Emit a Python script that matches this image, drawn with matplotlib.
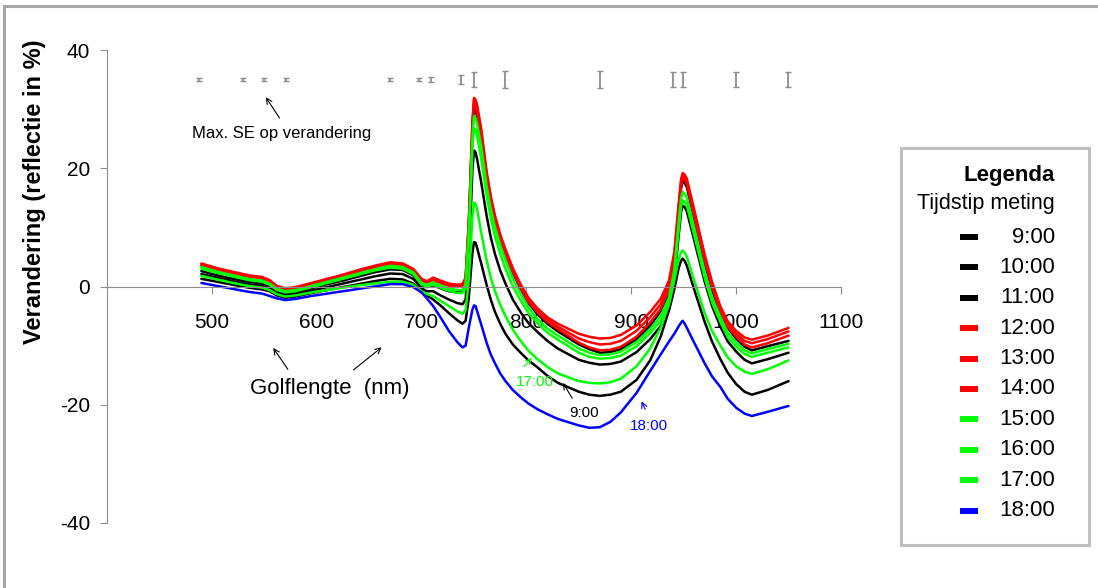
import matplotlib
matplotlib.use("Agg")
import matplotlib.pyplot as plt
from matplotlib.lines import Line2D
from matplotlib.patches import Rectangle

plt.rcParams['font.family'] = ['Liberation Sans', 'DejaVu Sans']
plt.rcParams['axes.unicode_minus'] = False

# wavelengths (nm)
wl = [490, 505, 520, 535, 548, 555, 562, 570, 580, 595, 610, 625, 640, 655, 670, 682, 692, 700, 705, 711,
      718, 726, 734, 739, 742, 745, 747, 748.5, 750, 751.5,
      753, 757, 762, 766, 770, 775, 780, 787, 795, 802, 810, 820, 830,
      850, 860, 870, 880, 890, 905, 918, 928, 936, 941, 945, 947.5, 949, 951,
      953, 960, 970, 977, 985, 992, 1000, 1008, 1015, 1030, 1050]

t0900 = [1.3, 0.8, 0.3, -0.2, -0.5, -0.8, -1.5, -1.9, -1.7, -1.1, -0.6, -0.1, 0.4, 0.9, 1.3, 1.2, 0.5, -0.8, -1.5, -2.2,
         -3.2, -4.5, -5.7, -6.3, -5.8, -2.0, 2.5, 5.7, 7.5, 7.4,
         6.5, 3.8, 0.3, -2.2, -4.3, -6.3, -8.0, -9.8, -11.3, -12.5, -13.6, -15.1, -16.3,
         -17.8, -18.3, -18.5, -18.3, -17.8, -15.8, -12.5, -8.5, -4.0, -0.5, 3.0, 4.4, 4.7, 4.3,
         3.5, -0.5, -6.0, -9.3, -12.3, -14.6, -16.5, -17.8, -18.3, -17.5, -16.0]
t1000 = [2.1, 1.5, 0.9, 0.4, 0.1, -0.3, -1.1, -1.5, -1.3, -0.7, -0.1, 0.5, 1.1, 1.7, 2.2, 2.1, 1.3, -0.3, -0.8, -0.8,
         -1.5, -2.2, -2.8, -3.0, -2.2, 5.0, 13.0, 19.8, 23.0, 22.7,
         21.5, 17.5, 12.0, 8.3, 5.5, 2.7, 0.5, -2.2, -4.5, -6.2, -7.6, -9.2, -10.5,
         -12.4, -12.9, -13.2, -13.1, -12.7, -11.1, -8.9, -6.7, -3.8, 0.8, 8.3, 12.6, 13.7, 13.4,
         12.7, 7.8, 0.8, -3.3, -6.8, -9.3, -11.0, -12.4, -13.0, -12.3, -11.2]
t1100 = [2.6, 1.9, 1.3, 0.8, 0.5, 0.1, -0.8, -1.2, -1.0, -0.3, 0.4, 1.0, 1.7, 2.4, 2.9, 2.8, 1.9, 0.2, -0.1, 0.2,
         -0.3, -0.8, -1.0, -0.9, 0.0, 9.0, 18.6, 26.3, 30.0, 29.7,
         28.8, 24.5, 18.0, 14.0, 11.0, 7.9, 5.5, 2.3, -0.6, -2.8, -4.6, -6.3, -7.6,
         -9.8, -10.6, -11.2, -11.1, -10.6, -8.9, -6.6, -4.2, -1.0, 3.9, 12.0, 16.6, 17.8, 17.5,
         16.8, 11.4, 4.0, -0.6, -4.5, -7.0, -8.8, -10.2, -10.8, -10.1, -9.2]
t1200 = [3.9, 3.1, 2.5, 1.9, 1.6, 1.1, 0.1, -0.3, -0.1, 0.6, 1.3, 2.0, 2.8, 3.5, 4.1, 3.9, 3.0, 1.3, 0.9, 1.5,
         1.0, 0.5, 0.3, 0.4, 1.5, 11.0, 20.5, 28.0, 31.9, 31.6,
         30.7, 26.5, 19.5, 15.3, 12.0, 8.8, 6.3, 3.1, 0.2, -1.9, -3.6, -5.2, -6.3,
         -8.0, -8.5, -8.8, -8.7, -8.2, -6.6, -4.3, -2.1, 1.0, 5.8, 13.6, 18.1, 19.2, 18.9,
         18.2, 13.0, 5.4, 0.8, -3.4, -5.9, -7.5, -8.6, -9.0, -8.3, -7.0]
t1300 = [3.7, 2.9, 2.3, 1.7, 1.4, 0.9, -0.1, -0.5, -0.3, 0.4, 1.1, 1.8, 2.6, 3.3, 3.9, 3.7, 2.8, 1.1, 0.7, 1.3,
         0.8, 0.3, 0.1, 0.2, 1.3, 10.5, 20.0, 27.5, 31.4, 31.1,
         30.2, 26.0, 19.0, 14.9, 11.6, 8.5, 6.0, 2.8, -0.1, -2.3, -4.0, -5.6, -6.8,
         -8.8, -9.4, -9.8, -9.7, -9.2, -7.5, -5.2, -3.0, 0.2, 5.1, 13.1, 17.7, 18.8, 18.5,
         17.8, 12.5, 5.0, 0.4, -3.8, -6.3, -8.0, -9.2, -9.6, -8.9, -7.6]
t1400 = [3.5, 2.7, 2.1, 1.5, 1.2, 0.7, -0.3, -0.7, -0.5, 0.2, 0.9, 1.6, 2.4, 3.1, 3.7, 3.5, 2.6, 0.9, 0.5, 1.1,
         0.6, 0.1, -0.1, 0.0, 1.1, 10.0, 19.5, 27.0, 30.8, 30.5,
         29.6, 25.3, 18.5, 14.5, 11.2, 8.1, 5.7, 2.5, -0.4, -2.6, -4.3, -6.0, -7.2,
         -9.5, -10.3, -10.8, -10.7, -10.2, -8.5, -6.1, -3.8, -0.6, 4.3, 12.5, 17.1, 18.3, 18.0,
         17.3, 11.9, 4.5, -0.1, -4.2, -6.8, -8.5, -9.8, -10.3, -9.6, -8.3]
t1500 = [3.3, 2.5, 1.9, 1.3, 1.0, 0.5, -0.4, -0.8, -0.6, 0.1, 0.8, 1.5, 2.2, 2.9, 3.5, 3.3, 2.4, 0.6, 0.3, 0.7,
         0.2, -0.3, -0.6, -0.6, 0.3, 9.0, 18.0, 25.3, 28.8, 28.5,
         27.5, 23.5, 17.0, 13.1, 10.0, 7.0, 4.5, 1.3, -1.4, -3.6, -5.4, -7.1, -8.3,
         -10.5, -11.2, -11.6, -11.5, -11.0, -9.4, -7.2, -5.0, -1.9, 2.8, 10.5, 14.9, 16.0, 15.7,
         15.0, 9.9, 2.5, -1.8, -5.2, -7.8, -9.5, -10.8, -11.3, -10.6, -9.7]
t1600 = [3.0, 2.3, 1.7, 1.1, 0.8, 0.3, -0.6, -1.0, -0.8, -0.1, 0.6, 1.3, 2.0, 2.7, 3.2, 3.0, 2.1, 0.3, 0.0, 0.3,
         -0.2, -0.7, -1.1, -1.1, -0.3, 8.0, 16.5, 23.5, 26.8, 26.5,
         25.5, 21.5, 15.5, 11.6, 8.5, 5.5, 3.0, 0.0, -2.5, -4.5, -6.1, -7.8, -9.0,
         -11.2, -11.9, -12.2, -12.1, -11.7, -10.1, -7.9, -5.8, -2.8, 1.7, 9.2, 13.5, 14.6, 14.3,
         13.7, 8.7, 1.5, -2.7, -6.0, -8.6, -10.2, -11.4, -11.9, -11.2, -10.3]
t1700 = [1.8, 1.2, 0.6, 0.1, -0.2, -0.6, -1.3, -1.7, -1.5, -1.0, -0.6, -0.2, 0.2, 0.5, 0.8, 0.8, 0.3, -0.8, -1.3, -1.6,
         -2.4, -3.3, -4.2, -4.6, -4.0, 1.0, 7.0, 11.8, 14.2, 14.0,
         13.0, 9.0, 4.5, 1.5, -0.8, -3.1, -5.0, -7.3, -9.3, -10.9, -12.2, -13.6, -14.7,
         -16.0, -16.3, -16.4, -16.2, -15.6, -13.5, -10.5, -7.0, -3.0, 1.0, 4.5, 5.8, 6.1, 5.7,
         5.0, 1.0, -4.5, -7.5, -10.0, -12.0, -13.5, -14.4, -14.8, -14.0, -12.5]
t1800 = [0.6, 0.1, -0.4, -0.9, -1.2, -1.6, -2.0, -2.3, -2.1, -1.6, -1.2, -0.8, -0.4, 0.0, 0.4, 0.4, -0.1, -1.0, -2.0, -3.3,
         -5.2, -7.5, -9.4, -10.3, -10.0, -7.0, -5.2, -3.9, -3.2, -3.3,
         -4.2, -6.5, -9.5, -11.5, -13.0, -14.7, -16.0, -17.5, -18.8, -19.8, -20.7, -21.6, -22.4,
         -23.5, -23.9, -23.8, -22.9, -21.3, -18.0, -14.3, -11.5, -9.3, -8.0, -6.8, -6.1, -5.8, -6.3,
         -7.0, -9.5, -13.0, -15.2, -17.0, -19.0, -20.5, -21.5, -21.9, -21.2, -20.2]

labels = ["9:00", "10:00", "11:00", "12:00", "13:00", "14:00", "15:00", "16:00", "17:00", "18:00"]
series = [t0900, t1000, t1100, t1200, t1300, t1400, t1500, t1600, t1700, t1800]
colors = ["#000000", "#000000", "#000000", "#ff0000", "#ff0000", "#ff0000",
          "#00ff00", "#00ff00", "#00ff00", "#0000ff"]

# max SE markers
se_wl = [488, 530, 550, 571, 670, 698, 709, 738, 750, 780, 870, 940, 949, 1000, 1049]
se_err = [0.3, 0.3, 0.3, 0.3, 0.3, 0.3, 0.4, 0.8, 1.3, 1.4, 1.4, 1.3, 1.3, 1.3, 1.3]
se_level = 35

W, H = 1098, 588
fig = plt.figure(figsize=(W / 100, H / 100), dpi=100)
ax = fig.add_axes([107 / W, 1 - 523 / H, (841 - 107) / W, (523 - 50) / H])

for y, c in zip(series, colors):
    ax.plot(wl, y, color=c, lw=1.8, solid_joinstyle='round', solid_capstyle='round')

ax.errorbar(se_wl, [se_level] * len(se_wl), yerr=se_err, fmt='none', ecolor='#8c8c8c',
            elinewidth=1.3, capsize=2.5, capthick=1.0)

ax.set_xlim(400, 1100)
ax.set_ylim(-40, 40)
ax.set_xticks([500, 600, 700, 800, 900, 1000, 1100])
ax.set_yticks([-40, -20, 0, 20, 40])
for s in ['top', 'right']:
    ax.spines[s].set_visible(False)
ax.spines['bottom'].set_position(('data', 0))
ax.spines['bottom'].set_color('#8c8c8c')
ax.spines['left'].set_color('#8c8c8c')
ax.tick_params(axis='x', length=5, color='#8c8c8c', pad=14, labelsize=15)
ax.tick_params(axis='y', length=5, color='#8c8c8c', pad=7, labelsize=15)
ax.set_ylabel("Verandering (reflectie in %)", fontsize=17, fontweight='bold')
ax.yaxis.set_label_coords(-0.083, 0.70)

arrow = dict(arrowstyle='->', color='black', lw=0.8)
ax.annotate("", xy=(550, 32.4), xytext=(566, 28.1), arrowprops=arrow)
ax.text(567, 25.9, "Max. SE op verandering", fontsize=12, ha='center', va='center')
ax.annotate("", xy=(557, -10), xytext=(574, -14.4), arrowprops=arrow)
ax.annotate("", xy=(664, -10), xytext=(633, -14.4), arrowprops=arrow)
ax.text(612, -17.3, "Golflengte  (nm)", fontsize=16, ha='center', va='center')

ax.annotate("", xy=(807, -11.7), xytext=(796, -13.9),
            arrowprops=dict(arrowstyle='->', color='#00ff00', lw=0.8))
ax.text(808, -16.1, "17:00", fontsize=11, color='#00ff00', ha='center', va='center')
ax.annotate("", xy=(833.5, -15.9), xytext=(845, -19.3), arrowprops=arrow)
ax.text(855, -21.4, "9:00", fontsize=11, ha='center', va='center')
ax.annotate("", xy=(908.6, -19), xytext=(914.3, -21.2),
            arrowprops=dict(arrowstyle='->', color='#0000ff', lw=0.8))
ax.text(917, -23.6, "18:00", fontsize=11, color='#0000ff', ha='center', va='center')


def fx(px):
    return px / W


def fy(py):
    return 1 - py / H


# outer frame
fig.add_artist(Rectangle((fx(4), fy(700)), 1.2, fy(6) - fy(700), transform=fig.transFigure,
                         fill=False, edgecolor='#a6a6a6', lw=2.2))

# legend box
fig.add_artist(Rectangle((fx(901), fy(545)), fx(1089) - fx(901), fy(148) - fy(545),
                         transform=fig.transFigure, fill=False, edgecolor='#bfbfbf', lw=2.2))
fig.text(fx(1055), fy(176), "Legenda", fontsize=16, fontweight='bold', ha='right', va='center')
fig.text(fx(1055), fy(203), "Tijdstip meting", fontsize=15.5, ha='right', va='center')
for i, (lab, c) in enumerate(zip(labels, colors)):
    py = 237 + i * 30.4
    fig.add_artist(Line2D([fx(960), fx(978)], [fy(py), fy(py)], transform=fig.transFigure,
                          color=c, lw=4.3, solid_capstyle='butt'))
    fig.text(fx(1055), fy(py), lab, fontsize=16, ha='right', va='center')

fig.savefig("out.png", dpi=100)
